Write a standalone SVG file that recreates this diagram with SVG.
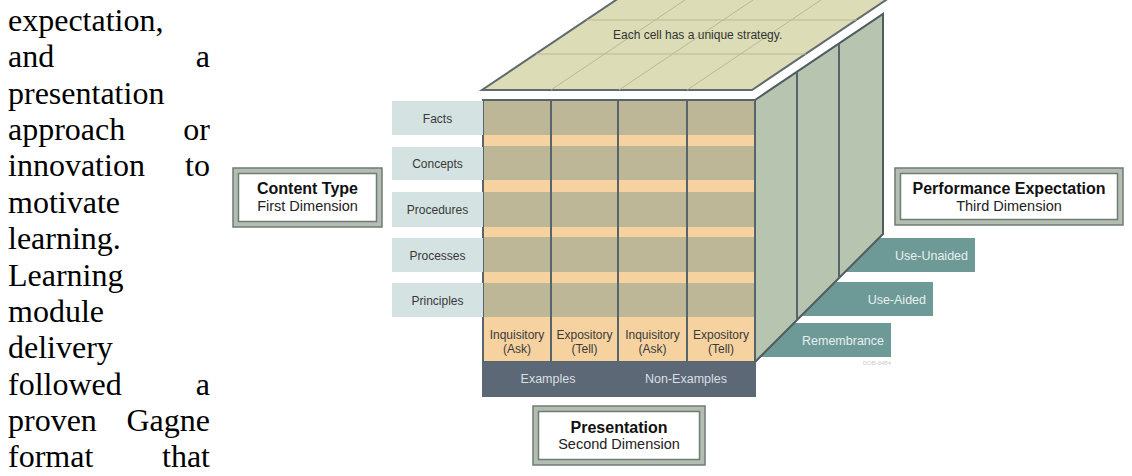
<svg xmlns="http://www.w3.org/2000/svg" width="1132" height="476" viewBox="0 0 1132 476">
<style>
.para{font-family:"Liberation Serif","Times New Roman",serif;font-size:32px;fill:#000}
.sans{font-family:"Liberation Sans",Arial,sans-serif}
.lbl{font-size:12px;fill:#383838;text-anchor:middle}
.col{font-size:12px;fill:#3a3a3a;text-anchor:middle}
.band{font-size:12.5px;fill:#d9dfe3;text-anchor:middle}
.teal{font-size:12.5px;fill:#e6f0ef;text-anchor:end}
.bt{font-size:16px;font-weight:bold;fill:#111;text-anchor:middle}
.bs{font-size:14.5px;fill:#222;text-anchor:middle}
.lbox{fill:#d5e2e2}
.tan{fill:#bdb797}
.tealr{fill:#6d9997}
.outer{fill:#b3bdb2;stroke:#6f7c73;stroke-width:1.5}
.inner{fill:#fff;stroke:#6f7c73;stroke-width:1.5}
.grid{stroke:#b9b995;stroke-width:1;fill:none}
.div{stroke:#56656a;stroke-width:2}
</style>
<rect width="1132" height="476" fill="#fff"/>
<g id="paragraph" class="para">
<text x="8" y="31">expectation,</text>
<text x="8" y="67">and</text><text x="210" y="67" text-anchor="end">a</text>
<text x="8" y="104">presentation</text>
<text x="8" y="140">approach</text><text x="210" y="140" text-anchor="end">or</text>
<text x="8" y="176">innovation</text><text x="210" y="176" text-anchor="end">to</text>
<text x="8" y="213">motivate</text>
<text x="8" y="249">learning.</text>
<text x="8" y="286">Learning</text>
<text x="8" y="322">module</text>
<text x="8" y="358">delivery</text>
<text x="8" y="395">followed</text><text x="210" y="395" text-anchor="end">a</text>
<text x="8" y="431">proven</text><text x="210" y="431" text-anchor="end">Gagne</text>
<text x="8" y="467">format</text><text x="210" y="467" text-anchor="end">that</text>
</g>
<g id="connectors"/>
<g id="top-face">
<polygon points="482,90 752,90 906.8,-14 636.8,-14" fill="#dcdcb6" stroke="#5f6b6e" stroke-width="2"/>
<line class="grid" x1="536.2" y1="54" x2="806.2" y2="54"/>
<line class="grid" x1="586.8" y1="20" x2="856.8" y2="20"/>
<line class="grid" x1="551" y1="90" x2="705.8" y2="-14"/>
<line class="grid" x1="619" y1="90" x2="773.8" y2="-14"/>
<line class="grid" x1="687" y1="90" x2="841.8" y2="-14"/>
<text class="sans" x="613" y="39" font-size="12" fill="#333">Each cell has a unique strategy.</text>
</g>
<g id="performance-levels">
<g id="use-unaided"><rect class="tealr" x="760" y="238" width="215" height="34"/><text class="sans teal" x="968" y="259.5">Use-Unaided</text></g>
<g id="use-aided"><rect class="tealr" x="760" y="282" width="173" height="34"/><text class="sans teal" x="926" y="303.5">Use-Aided</text></g>
<g id="remembrance"><rect class="tealr" x="760" y="323" width="131" height="34"/><text class="sans teal" x="884" y="344.5">Remembrance</text></g>
<text class="sans" x="891" y="365" font-size="6" fill="#c9cccc" text-anchor="end">DOB-0484</text>
</g>
<g id="right-face">
<polygon points="755,100 883,14 883,234 755,362" fill="#b7c4b0" stroke="#4f5d60" stroke-width="2"/>
<line class="div" x1="797" y1="71.8" x2="797" y2="320"/>
<line class="div" x1="839" y1="43.6" x2="839" y2="278"/>
</g>
<g id="front-face">
<rect x="483" y="100" width="272" height="262" fill="#f6d2a0"/>
<rect class="tan" x="483" y="100" width="272" height="35"/>
<rect class="tan" x="483" y="146" width="272" height="34"/>
<rect class="tan" x="483" y="192" width="272" height="35"/>
<rect class="tan" x="483" y="237" width="272" height="35"/>
<rect class="tan" x="483" y="283" width="272" height="34"/>
<line class="div" x1="551" y1="100" x2="551" y2="362"/>
<line class="div" x1="618" y1="100" x2="618" y2="362"/>
<line class="div" x1="687" y1="100" x2="687" y2="362"/>
<rect x="483" y="100" width="272" height="262" fill="none" stroke="#56656a" stroke-width="2"/>
<g class="sans col">
<text x="517" y="339">Inquisitory</text><text x="517" y="353">(Ask)</text>
<text x="584.5" y="339">Expository</text><text x="584.5" y="353">(Tell)</text>
<text x="652.5" y="339">Inquisitory</text><text x="652.5" y="353">(Ask)</text>
<text x="721" y="339">Expository</text><text x="721" y="353">(Tell)</text>
</g>
</g>
<g id="presentation-band">
<rect x="482" y="362" width="274" height="35" fill="#5c6875"/>
<text class="sans band" x="548" y="383">Examples</text>
<text class="sans band" x="686" y="383">Non-Examples</text>
</g>
<g id="content-labels" class="sans">
<g id="facts"><rect class="lbox" x="392" y="101" width="91" height="34"/><text class="lbl" x="437.5" y="123">Facts</text></g>
<g id="concepts"><rect class="lbox" x="392" y="147" width="91" height="33"/><text class="lbl" x="437.5" y="168">Concepts</text></g>
<g id="procedures"><rect class="lbox" x="392" y="192" width="91" height="35"/><text class="lbl" x="437.5" y="214">Procedures</text></g>
<g id="processes"><rect class="lbox" x="392" y="238" width="91" height="34"/><text class="lbl" x="437.5" y="259.5">Processes</text></g>
<g id="principles"><rect class="lbox" x="392" y="283" width="91" height="34"/><text class="lbl" x="437.5" y="304.5">Principles</text></g>
</g>
<g id="content-type-box" class="sans">
<rect class="outer" x="233" y="168" width="149" height="59"/>
<rect class="inner" x="238.5" y="173.5" width="138" height="48"/>
<text class="bt" x="307.5" y="194">Content Type</text>
<text class="bs" x="307.5" y="210.5">First Dimension</text>
</g>
<g id="performance-box" class="sans">
<rect class="outer" x="895" y="168" width="228" height="57"/>
<rect class="inner" x="900.5" y="173.5" width="217" height="46"/>
<text class="bt" x="1009" y="194">Performance Expectation</text>
<text class="bs" x="1009" y="211">Third Dimension</text>
</g>
<g id="presentation-box" class="sans">
<rect class="outer" x="533" y="406" width="172" height="59"/>
<rect class="inner" x="538.5" y="411.5" width="161" height="48"/>
<text class="bt" x="619" y="432.5">Presentation</text>
<text class="bs" x="619" y="449">Second Dimension</text>
</g>
</svg>
